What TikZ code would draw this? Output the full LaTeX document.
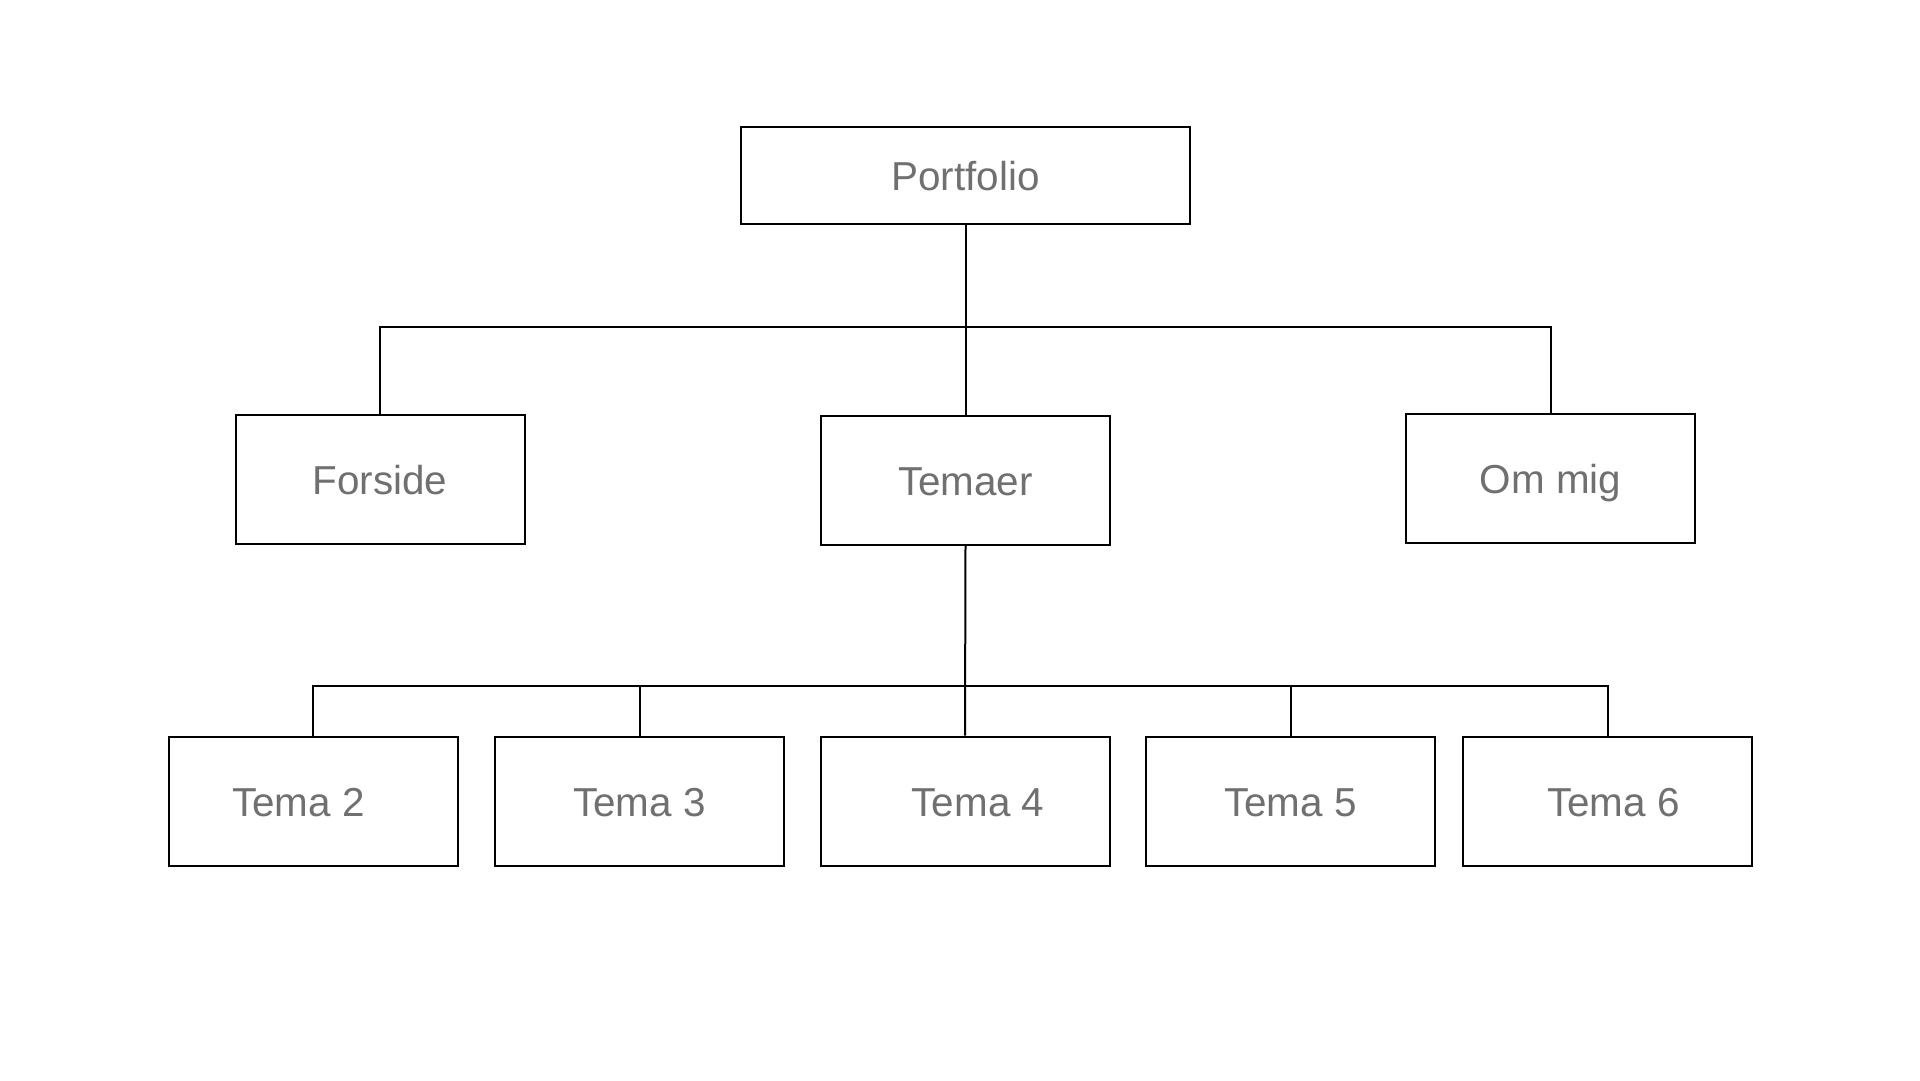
\documentclass[tikz,border=0pt]{standalone}
\usepackage{fontspec}
\setmainfont{Liberation Sans}
\definecolor{labelgray}{RGB}{112,112,112}
\begin{document}
\begin{tikzpicture}[x=0.1mm,y=-0.1mm,line width=0.2mm,
  box/.style={rectangle, draw=black, fill=white, minimum width=28.9mm, minimum height=12.9mm, inner sep=0pt,
    font=\fontsize{11.5}{14}\selectfont, text=labelgray, text height=1.38ex+1.4pt, text depth=0pt},
  every label/.style={font=\fontsize{11.5}{14}\selectfont, text=labelgray, inner sep=0pt, text height=1.38ex+1.4pt, text depth=0pt}]
\useasboundingbox (0,0) rectangle (1920,1080);
\node [box, minimum width=44.9mm, minimum height=9.7mm] (portfolio) at (965.5,175) {Portfolio};
\node [box] (forside) at (380,479.5) {Forside};
\node [box] (temaer) at (965.5,480.5) {Temaer};
\node [box] (ommig) at (1550.5,478) {Om mig};
\node [box, label={[xshift=-1.45mm]center:Tema 2}] (tema2) at (313,801) {};
\node [box, label={center:Tema 3}] (tema3) at (639.5,801) {};
\node [box, label={[xshift=1.3mm]center:Tema 4}] (tema4) at (965,801) {};
\node [box, label={center:Tema 5}] (tema5) at (1290.5,801) {};
\node [box, label={[xshift=0.6mm]center:Tema 6}] (tema6) at (1607.5,801) {};
\coordinate (bus1) at (965.5,327);
\coordinate (bus2) at (965,686);
\draw (portfolio.south) -- (temaer.north);
\draw (forside.north) |- (bus1) -| (ommig.north);
\draw (temaer.south) -- (tema4.north);
\draw (tema2.north) |- (bus2) -| (tema6.north);
\draw (tema3.north) -- (tema3.north |- bus2);
\draw (tema5.north) -- (tema5.north |- bus2);
\end{tikzpicture}
\end{document}
